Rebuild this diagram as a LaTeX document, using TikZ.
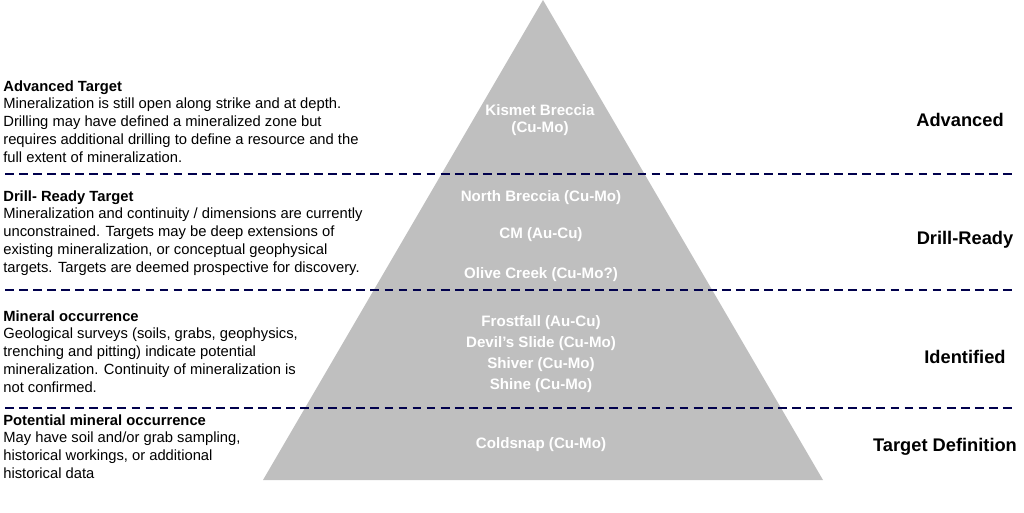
\documentclass[tikz,border=0pt]{standalone}
\usepackage{fontspec}
\setmainfont{Liberation Sans}
\begin{document}
\begin{tikzpicture}[
    x=0.02cm, y=-0.02cm,
    tier/.style={draw=black!70!blue, dashed, line width=1.1pt, dash pattern=on 5pt off 3pt},
    prospect/.style={text=white, font=\fontsize{8.6}{9.5}\selectfont\bfseries},
    stage/.style={font=\fontsize{10.4}{12}\selectfont\bfseries},
    desc/.style={anchor=north west, align=left, inner sep=0pt, font=\fontsize{8.4}{10.2}\selectfont},
  ]
    \useasboundingbox (0,0) rectangle (1024,513);

    % Pyramid
    \fill[black!25] (543,0) coordinate (apex) -- (823,480) coordinate (br) -- (263,480) coordinate (bl) -- cycle;

    % Tier separators
    \foreach \y/\n in {174/a, 290/b, 408/c} {
      \coordinate (l\n) at (5,\y);
      \coordinate (r\n) at (1016,\y);
      \draw[tier] (l\n) -- (r\n);
    }

    % Prospects
    \node[prospect, align=center] (kismet) at (540,120) {Kismet Breccia\\(Cu-Mo)};
    \node[prospect] (north) at (541,198) {North Breccia (Cu-Mo)};
    \node[prospect] (cm) at (541,235) {CM (Au-Cu)};
    \node[prospect] (olive) at (541,275) {Olive Creek (Cu-Mo?)};
    \node[prospect] (frost) at (541,323) {Frostfall (Au-Cu)};
    \node[prospect] (devil) at (541,344) {Devil's Slide (Cu-Mo)};
    \node[prospect] (shiver) at (541,365) {Shiver (Cu-Mo)};
    \node[prospect] (shine) at (541,386) {Shine (Cu-Mo)};
    \node[prospect] (cold) at (541,445) {Coldsnap (Cu-Mo)};

    % Stage labels
    \node[stage] (adv) at (960,120) {Advanced};
    \node[stage] (drill) at (965,240) {Drill-Ready};
    \node[stage] (ident) at (965,357) {Identified};
    \node[stage] (target) at (945,447) {Target Definition};

    % Descriptions
    \node[desc] (dadv) at (3,80) {\textbf{Advanced Target}\\Mineralization is still open along strike and at depth.\\Drilling may have defined a mineralized zone but\\requires additional drilling to define a resource and the\\full extent of mineralization.};
    \node[desc] (ddrill) at (3,190) {\textbf{Drill- Ready Target}\\Mineralization and continuity / dimensions are currently\\unconstrained. Targets may be deep extensions of\\existing mineralization, or conceptual geophysical\\targets. Targets are deemed prospective for discovery.};
    \node[desc] (dident) at (3,310) {\textbf{Mineral occurrence}\\Geological surveys (soils, grabs, geophysics,\\trenching and pitting) indicate potential\\mineralization. Continuity of mineralization is\\not confirmed.};
    \node[desc] (dtarget) at (3,414) {\textbf{Potential mineral occurrence}\\May have soil and/or grab sampling,\\historical workings, or additional\\historical data};
  \end{tikzpicture}
\end{document}
